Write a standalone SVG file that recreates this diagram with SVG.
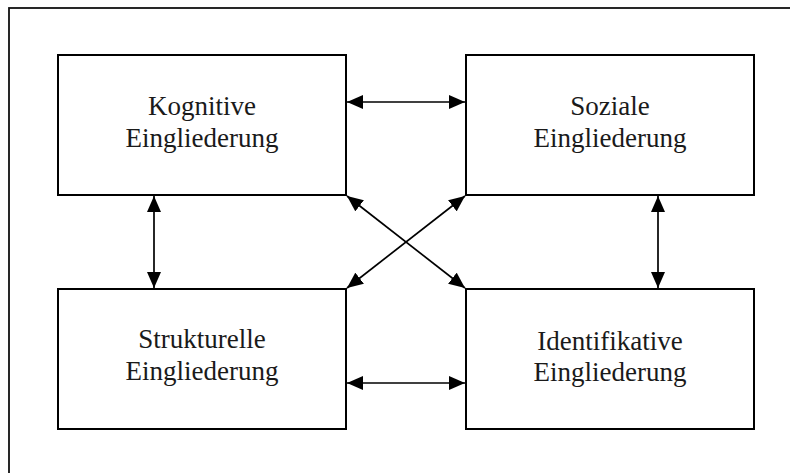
<svg xmlns="http://www.w3.org/2000/svg" width="790" height="473" viewBox="0 0 790 473">
<style>
.box{fill:#fff;stroke:#000;stroke-width:2}
.lbl{font-family:"Liberation Serif","Times New Roman",serif;font-size:27px;fill:#1a1a1a;text-anchor:middle}
.con{stroke:#000;stroke-width:1.7;fill:none;marker-start:url(#ah);marker-end:url(#ah)}
</style>
<defs>
<marker id="ah" viewBox="0 0 16 14" refX="16" refY="7" markerWidth="16" markerHeight="14" markerUnits="userSpaceOnUse" orient="auto-start-reverse">
<path d="M0,0 L16,7 L0,14 Z" fill="#000"/>
</marker>
</defs>
<rect x="9" y="8" width="820" height="500" fill="#fff" stroke="#111" stroke-width="1.8"/>
<g id="connectors">
<line class="con" x1="347" y1="102" x2="465" y2="102"/>
<line class="con" x1="347" y1="383" x2="465" y2="383"/>
<line class="con" x1="154" y1="196" x2="154" y2="288"/>
<line class="con" x1="658" y1="196" x2="658" y2="288"/>
<line class="con" x1="347" y1="196" x2="465" y2="288"/>
<line class="con" x1="465" y1="196" x2="347" y2="288"/>
</g>
<g id="kognitive">
<rect class="box" x="58" y="55" width="288" height="140"/>
<text class="lbl" x="202" y="115">Kognitive</text>
<text class="lbl" x="202" y="147">Eingliederung</text>
</g>
<g id="soziale">
<rect class="box" x="466" y="55" width="288" height="140"/>
<text class="lbl" x="610" y="115">Soziale</text>
<text class="lbl" x="610" y="147">Eingliederung</text>
</g>
<g id="strukturelle">
<rect class="box" x="58" y="289" width="288" height="140"/>
<text class="lbl" x="202" y="348">Strukturelle</text>
<text class="lbl" x="202" y="380">Eingliederung</text>
</g>
<g id="identifikative">
<rect class="box" x="466" y="289" width="288" height="140"/>
<text class="lbl" x="610" y="350">Identifikative</text>
<text class="lbl" x="610" y="381">Eingliederung</text>
</g>
</svg>
